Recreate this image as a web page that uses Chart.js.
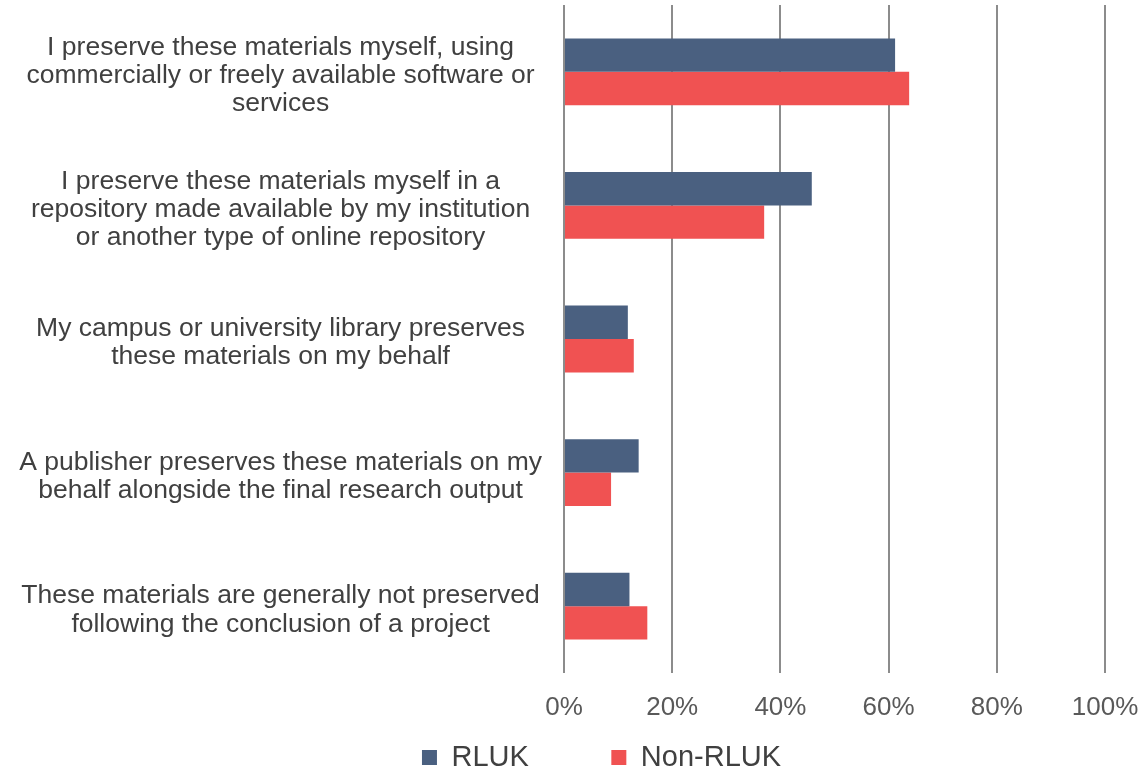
<!DOCTYPE html>
<html>
<head>
<meta charset="utf-8">
<script src="https://cdn.jsdelivr.net/npm/chart.js@4/dist/chart.umd.min.js"></script>
<style>
html,body{margin:0;padding:0;background:#fff;}
#wrap{width:1145px;height:775px;}
</style>
</head>
<body>
<div id="wrap"><canvas id="c" width="1145" height="775"></canvas></div>
<script>
const categories = [
  ["I preserve these materials myself, using", "commercially or freely available software or", "services"],
  ["I preserve these materials myself in a", "repository made available by my institution", "or another type of online repository"],
  ["My campus or university library preserves", "these materials on my behalf"],
  ["A publisher preserves these materials on my", "behalf alongside the final research output"],
  ["These materials are generally not preserved", "following the conclusion of a project"]
];
const seriesNames = ["RLUK", "Non-RLUK"];
const rlukValues = [61.2, 45.8, 11.8, 13.8, 12.1];
const nonRlukValues = [63.8, 37.0, 12.9, 8.7, 15.4];
const xTickValues = [0, 20, 40, 60, 80, 100];

const FONT = "'Liberation Sans', Arial, sans-serif";

const legendShift = {
  id: 'legendShift',
  afterLayout(chart) {
    const lg = chart.legend;
    if (lg) { lg.top += 7; lg.bottom += 7; lg.left += 44; lg.right += 44; }
  }
};

new Chart(document.getElementById('c'), {
  type: 'bar',
  data: {
    labels: categories,
    datasets: [
      { label: seriesNames[0], data: rlukValues, backgroundColor: '#4a6080', categoryPercentage: 0.5, barPercentage: 1.0 },
      { label: seriesNames[1], data: nonRlukValues, backgroundColor: '#f05252', categoryPercentage: 0.5, barPercentage: 1.0 }
    ]
  },
  plugins: [legendShift],
  options: {
    indexAxis: 'y',
    responsive: false,
    animation: false,
    devicePixelRatio: 1,
    layout: { padding: { left: 10, right: 40, top: 5, bottom: 0 } },
    scales: {
      x: {
        min: 0, max: 100,
        afterBuildTicks: (axis) => { axis.ticks = xTickValues.map(v => ({ value: v })); },
        ticks: {
          callback: (v) => v + '%',
          color: '#595959',
          font: { family: FONT, size: 26, lineHeight: 1.2 },
          padding: 19,
          maxRotation: 0
        },
        grid: { color: '#8c8c8c', lineWidth: 2, drawTicks: false },
        border: { display: false },
        afterFit: (axis) => { axis.height = 53; axis.paddingLeft = 0; axis.paddingRight = 0; }
      },
      y: {
        ticks: {
          color: '#404040',
          font: { family: FONT, size: 26.5, lineHeight: 1.06 },
          crossAlign: 'center',
          padding: 22,
          labelOffset: 4
        },
        grid: { display: false, drawTicks: false },
        border: { display: false },
        afterFit: (axis) => { axis.width = 554; axis.paddingTop = 0; axis.paddingBottom = 0; }
      }
    },
    plugins: {
      legend: {
        position: 'bottom',
        labels: {
          boxWidth: 15,
          boxHeight: 15,
          padding: 10,
          color: '#404040',
          font: { family: FONT, size: 29 },
          generateLabels: (chart) => {
            const items = Chart.defaults.plugins.legend.labels.generateLabels(chart);
            items[0].text = items[0].text + '         ';
            return items;
          }
        }
      },
      tooltip: { enabled: false }
    }
  }
});
</script>
</body>
</html>
